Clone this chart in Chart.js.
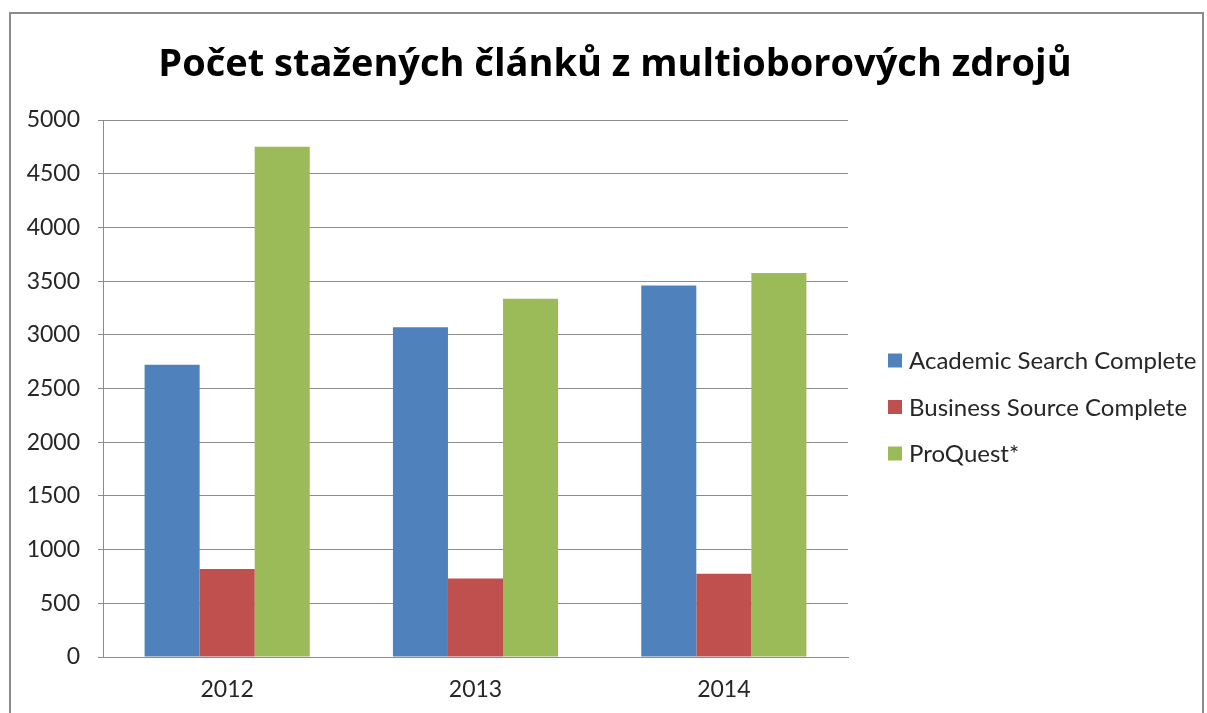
<!DOCTYPE html>
<html>
<head>
<meta charset="utf-8">
<script src="https://cdn.jsdelivr.net/npm/chart.js@4.4.1/dist/chart.umd.min.js"></script>
<style>
  html, body { margin: 0; padding: 0; background: #ffffff; overflow: hidden; }
  #wrap { position: relative; width: 1207px; height: 713px; }
  #frame { position: absolute; left: 9px; top: 12px; width: 1195px; height: 720px; border: 2px solid #8c8c8c; box-sizing: border-box; }
  canvas { position: absolute; left: 0; top: 0; }
</style>
</head>
<body>
<div id="wrap">
  <div id="frame"></div>
  <canvas id="c" width="1207" height="713"></canvas>
</div>
<script>
const titleText = "Počet stažených článků z multioborových zdrojů";
const categories = ["2012", "2013", "2014"];
const seriesNames = ["Academic Search Complete", "Business Source Complete", "ProQuest*"];
const academicSearch = [2720, 3070, 3460];
const businessSource = [820, 730, 775];
const proQuest = [4750, 3335, 3575];
const yTicks = [0, 500, 1000, 1500, 2000, 2500, 3000, 3500, 4000, 4500, 5000];
const yTickLabels = ["0", "500", "1000", "1500", "2000", "2500", "3000", "3500", "4000", "4500", "5000"];
const colors = ["#4F81BD", "#C0504D", "#9BBB59"];

const fontFam = "Lato, 'Open Sans', sans-serif";
const titleFont = "bold 38px 'Open Sans', Lato, sans-serif";
const gridColor = "#8c8c8c";
const textColor = "#262626";

// Title (centred over the whole figure) and legend to the right of the plot, Excel-like
const sideDecor = {
  id: "sideDecor",
  afterDraw(chart) {
    const ctx = chart.ctx;
    const area = chart.chartArea;
    ctx.save();
    // title
    ctx.font = titleFont;
    ctx.fillStyle = "#000000";
    ctx.textAlign = "center";
    ctx.textBaseline = "alphabetic";
    ctx.fillText(titleText, 615, 76);
    // legend
    const x0 = area.right + 40;
    const midY = 407;
    const step = 46.5;
    const ds = chart.data.datasets;
    ctx.font = "24px " + fontFam;
    ctx.textBaseline = "middle";
    ctx.textAlign = "left";
    ds.forEach((d, i) => {
      const y = midY + (i - (ds.length - 1) / 2) * step;
      ctx.fillStyle = d.backgroundColor;
      ctx.fillRect(x0, y - 7, 14, 14);
      ctx.fillStyle = textColor;
      ctx.fillText(d.label, x0 + 21, y + 1);
    });
    ctx.restore();
  }
};

new Chart(document.getElementById("c"), {
  type: "bar",
  data: {
    labels: categories,
    datasets: [
      { label: seriesNames[0], data: academicSearch, backgroundColor: colors[0] },
      { label: seriesNames[1], data: businessSource, backgroundColor: colors[1] },
      { label: seriesNames[2], data: proQuest, backgroundColor: colors[2] }
    ].map(d => Object.assign(d, { borderWidth: 0, categoryPercentage: 0.665, barPercentage: 1.0 }))
  },
  plugins: [sideDecor],
  options: {
    responsive: false,
    animation: false,
    devicePixelRatio: 1,
    layout: { padding: { left: 0, right: 359, top: 120, bottom: 0 } },
    plugins: {
      tooltip: { enabled: false },
      legend: { display: false },
      title: { display: false }
    },
    scales: {
      x: {
        afterFit: (s) => { s.height = 56; },
        grid: { display: false, drawTicks: false },
        border: { display: true, color: gridColor, width: 1 },
        ticks: { color: textColor, font: { family: fontFam, size: 23 }, padding: 19 }
      },
      y: {
        min: 0,
        max: 5000,
        afterBuildTicks: (s) => { s.ticks = yTicks.map(v => ({ value: v })); },
        afterFit: (s) => { s.width = 103; },
        grid: { color: gridColor, lineWidth: 1, drawTicks: true, tickLength: 5 },
        border: { display: true, color: gridColor, width: 1 },
        ticks: {
          color: textColor,
          font: { family: fontFam, size: 23 },
          padding: 18,
          callback: (v) => { const i = yTicks.indexOf(v); return i >= 0 ? yTickLabels[i] : ""; }
        }
      }
    }
  }
});
</script>
</body>
</html>
